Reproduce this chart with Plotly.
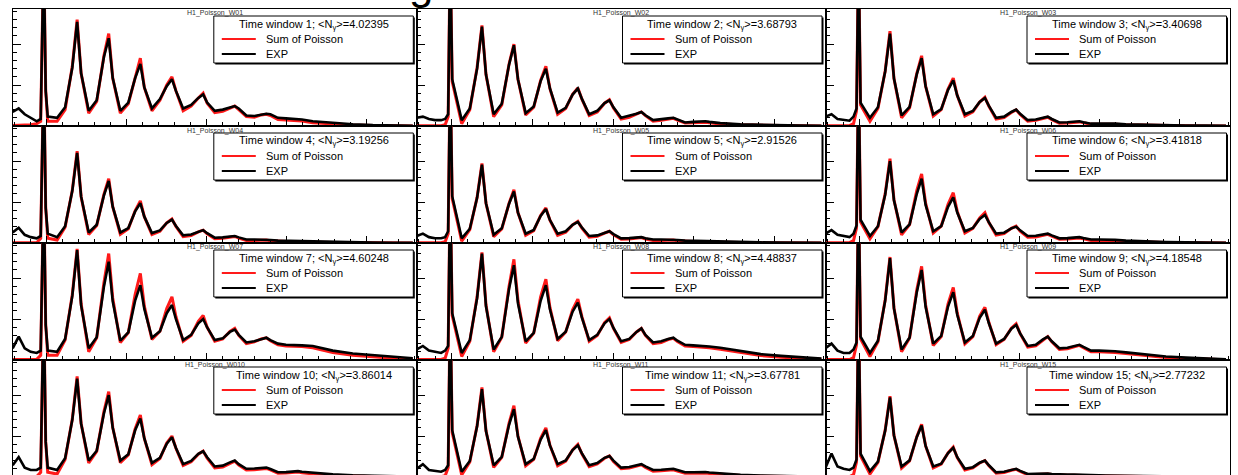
import plotly.graph_objects as go

# ---------------- data ----------------
channel = [0, 15, 30, 45, 60, 70, 77.5, 82.5, 87.5,
           111, 131, 149, 161, 171,
           190, 210, 228, 240, 250,
           269, 289, 306, 319, 329,
           348, 368, 385, 398, 408,
           426, 446, 464, 476, 486,
           505, 525, 543, 555, 565,
           584, 604, 621, 634, 644,
           663, 683, 700, 713, 723,
           750, 800, 850, 900, 950, 1000]

hist_names = ["H1_Poisson_W01", "H1_Poisson_W02", "H1_Poisson_W03",
              "H1_Poisson_W04", "H1_Poisson_W05", "H1_Poisson_W06",
              "H1_Poisson_W07", "H1_Poisson_W08", "H1_Poisson_W09",
              "H1_Poisson_W010", "H1_Poisson_W11", "H1_Poisson_W15"]
windows = [1, 2, 3, 4, 5, 6, 7, 8, 9, 10, 11, 15]
mean_ngamma = ["4.02395", "3.68793", "3.40698", "3.19256", "2.91526", "3.41818",
               "4.60248", "4.48837", "4.18548", "3.86014", "3.67781", "2.77232"]

exp_w01 = [120,150,100,70,40,60,1500,300,80, 70,160,500,890,450, 130,220,590,750,410, 130,200,410,530,330, 150,230,340,400,300, 150,180,240,270,200, 130,140,160,170,150, 90,85,100,105,100, 70,65,60,60,55, 40,25,15,8,4,2]
sop_w01 = [5,5,5,10,20,40,1500,300,40, 40,140,510,910,450, 110,210,600,790,410, 110,190,420,580,330, 130,220,350,420,300, 130,170,240,280,195, 115,125,155,170,140, 80,75,95,100,90, 55,50,48,48,42, 28,15,8,4,2,1]
exp_w02 = [70,80,60,50,50,60,100,1500,400, 50,150,490,850,440, 100,190,525,690,400, 110,167,384,490,321, 115,156,269,320,232, 100,130,196,220,160, 70,85,105,120,92, 50,55,65,70,55, 30,35,40,40,35, 25,15,10,6,4,2]
sop_w02 = [3,3,3,3,3,10,80,1500,380, 20,140,500,860,440, 80,180,530,700,400, 95,160,390,510,320, 100,150,270,325,230, 90,120,195,225,155, 60,75,100,120,88, 42,48,60,66,50, 25,28,32,32,28, 18,10,6,3,2,1]
exp_w03 = [80,100,60,50,45,80,150,1500,200, 70,160,466,790,405, 90,163,443,580,340, 100,144,309,390,260, 100,128,205,240,172, 70,80,120,140,104, 50,55,70,80,60, 30,32,38,40,32, 20,20,22,22,20, 14,9,6,4,3,2]
sop_w03 = [3,3,3,3,3,20,130,1500,180, 40,150,470,810,405, 70,155,450,600,340, 85,140,315,410,260, 85,120,205,245,168, 60,72,115,138,98, 42,48,64,75,55, 24,26,32,35,27, 15,15,17,17,15, 10,6,4,2,1,1]
exp_w04 = [90,130,70,50,40,60,1500,300,80, 50,144,446,770,396, 90,156,407,530,310, 90,128,270,340,225, 85,108,171,200,146, 65,72,98,110,84, 45,48,56,60,48, 30,30,30,30,26, 20,18,18,18,16, 12,8,5,3,2,1]
sop_w04 = [3,3,3,3,3,40,1500,300,40, 25,135,450,785,396, 72,150,415,550,310, 75,122,275,360,225, 72,100,172,205,142, 55,64,95,110,78, 37,40,50,56,42, 22,22,24,25,20, 13,12,12,12,10, 7,4,2,1,1,0]
exp_w05 = [60,80,50,40,40,50,100,1500,400, 40,122,386,670,340, 70,126,336,440,260, 80,112,231,290,196, 80,100,155,180,132, 60,65,88,100,76, 40,42,48,50,40, 30,30,30,30,25, 20,18,18,18,15, 11,7,5,3,2,1]
sop_w05 = [2,2,2,2,2,10,80,1500,380, 15,115,390,680,340, 55,120,340,455,260, 65,105,235,300,195, 65,92,155,185,128, 50,57,84,100,70, 32,34,42,46,34, 22,22,24,25,20, 13,12,12,12,10, 7,4,2,1,1,0]
exp_w06 = [80,110,70,60,50,80,150,1500,200, 60,143,412,700,364, 90,159,421,550,325, 100,144,309,390,260, 100,128,205,240,176, 80,88,125,140,108, 60,62,74,80,65, 40,42,48,50,42, 30,30,30,30,27, 20,12,8,5,3,2]
sop_w06 = [3,3,3,3,3,20,130,1500,180, 35,140,420,720,370, 70,158,450,590,340, 85,145,330,430,270, 85,125,215,260,175, 68,80,125,145,100, 50,52,66,74,58, 32,34,40,43,35, 22,22,22,22,19, 13,7,4,2,1,1]
exp_w07 = [100,200,100,70,60,80,1500,300,80, 70,180,548,940,467, 100,194,627,840,502, 165,236,507,640,437, 190,246,400,470,350, 170,215,314,350,278, 170,185,240,260,215, 150,160,180,190,170, 140,130,130,130,125, 120,80,55,40,25,15]
sop_w07 = [5,5,5,5,5,40,1500,300,40, 40,170,560,950,480, 70,190,660,910,530, 150,235,560,740,460, 175,245,440,540,370, 160,210,330,380,280, 160,180,245,270,210, 140,155,180,190,165, 130,120,120,120,115, 105,65,40,25,15,8]
exp_w08 = [90,120,80,70,60,80,120,1500,400, 60,170,528,910,459, 90,198,608,810,485, 160,232,506,640,433, 180,242,413,490,362, 170,215,314,350,274, 160,180,240,270,215, 150,160,180,190,165, 130,125,122,120,115, 105,75,50,35,22,12]
sop_w08 = [4,4,4,4,4,15,100,1500,380, 30,160,540,920,470, 70,195,630,860,510, 145,230,540,690,450, 165,240,430,520,370, 160,210,320,360,270, 150,175,240,270,210, 140,150,175,185,158, 120,115,112,110,105, 92,62,38,24,14,7]
exp_w09 = [100,140,80,60,60,90,150,1500,200, 60,165,506,870,441, 90,192,580,770,455, 140,206,457,580,387, 150,206,360,430,314, 140,180,268,300,228, 120,130,176,200,160, 100,105,122,130,112, 80,80,80,80,75, 65,45,30,20,12,6]
sop_w09 = [4,4,4,4,4,20,130,1500,180, 30,155,515,880,445, 70,188,600,800,470, 125,200,480,620,400, 138,200,375,450,320, 130,175,272,310,225, 110,122,172,200,155, 90,96,115,125,105, 70,70,70,70,65, 55,36,22,13,7,3]
exp_w10 = [100,170,80,60,60,80,1500,300,80, 60,161,489,840,455, 140,224,543,700,420, 140,194,399,500,329, 120,164,285,340,248, 110,138,198,220,168, 90,97,125,140,110, 70,72,78,80,68, 40,42,48,50,45, 35,22,14,9,5,3]
sop_w10 = [4,4,4,4,4,40,1500,300,40, 25,150,495,860,460, 120,218,560,730,425, 122,188,410,530,330, 105,158,290,350,245, 98,130,195,222,160, 78,86,118,135,102, 60,62,70,73,60, 32,34,40,42,37, 26,15,8,4,2,1]
exp_w11 = [70,110,60,50,45,60,100,1500,400, 45,137,433,750,392, 100,172,446,580,345, 110,154,319,400,270, 110,142,230,270,202, 100,120,164,180,140, 80,85,102,110,90, 60,62,68,70,60, 40,40,42,42,38, 30,18,12,7,4,2]
sop_w11 = [3,3,3,3,3,10,80,1500,380, 18,128,440,765,395, 82,168,460,610,350, 95,150,330,420,272, 96,136,232,278,198, 88,112,160,180,132, 70,76,96,104,82, 50,53,60,62,50, 32,32,34,34,30, 22,12,7,4,2,1]
exp_w15 = [80,200,90,70,60,80,150,1500,200, 50,132,396,680,355, 90,142,342,440,265, 90,114,205,250,169, 70,84,122,140,100, 40,45,62,70,52, 25,27,30,30,25, 20,20,20,20,18, 15,14,13,12,11, 10,7,5,3,2,1]
sop_w15 = [3,3,3,3,3,20,130,1500,180, 25,125,400,690,355, 75,138,345,450,265, 78,110,205,255,165, 60,78,120,140,95, 33,38,58,66,47, 20,22,25,26,21, 15,15,15,15,13, 10,9,8,7,6, 5,3,2,1,1,0]

exp_series = [exp_w01, exp_w02, exp_w03, exp_w04, exp_w05, exp_w06,
              exp_w07, exp_w08, exp_w09, exp_w10, exp_w11, exp_w15]
sop_series = [sop_w01, sop_w02, sop_w03, sop_w04, sop_w05, sop_w06,
              sop_w07, sop_w08, sop_w09, sop_w10, sop_w11, sop_w15]

# ---------------- layout geometry (pixels) ----------------
FIG_W, FIG_H = 1238, 475
col_left = [12.7, 416.8, 825.5]
col_right = [416.8, 825.5, 1230.0]
row_top = [9, 126, 243, 360]
row_bot = [126, 243, 360, 475]
row_ymin = [0, 0, 0, 17]


def px(x):
    return x / FIG_W


def py(y):
    return 1 - y / FIG_H


FONT = "Liberation Sans, Arial, Helvetica, sans-serif"

fig = go.Figure()
layout = {}
shapes = []
annotations = []

for i in range(12):
    r, c = divmod(i, 3)
    suf = "" if i == 0 else str(i + 1)
    L, R = col_left[c], col_right[c]
    T, B = row_top[r], row_bot[r]

    fig.add_trace(go.Scatter(x=channel, y=sop_series[i], xaxis="x" + suf, yaxis="y" + suf,
                             mode="lines", line=dict(color="#ff1a1a", width=3.0),
                             showlegend=False, hoverinfo="skip"))
    fig.add_trace(go.Scatter(x=channel, y=exp_series[i], xaxis="x" + suf, yaxis="y" + suf,
                             mode="lines", line=dict(color="black", width=2.6),
                             showlegend=False, hoverinfo="skip"))

    last_row = (r == 3)
    layout["xaxis" + suf] = dict(
        domain=[px(L), px(R)], anchor="y" + suf, range=[0, 1010],
        showgrid=False, zeroline=False, showline=True, mirror=True,
        linecolor="black", linewidth=1, ticks="" if last_row else "inside", ticklen=7,
        tickcolor="black", tickwidth=1, tick0=85, dtick=200, showticklabels=False,
        minor=dict(ticks="" if last_row else "inside", ticklen=4, tick0=5, dtick=40,
                   tickcolor="black", showgrid=False),
    )
    layout["yaxis" + suf] = dict(
        domain=[py(B), py(T)], anchor="x" + suf, range=[row_ymin[r], 1000],
        showgrid=False, zeroline=False, showline=True, mirror=True,
        linecolor="black", linewidth=1, ticks="inside", ticklen=8,
        tickcolor="black", tickwidth=1, tick0=0, dtick=350, showticklabels=False,
        minor=dict(ticks="inside", ticklen=4, tick0=0, dtick=70, tickcolor="black", showgrid=False),
    )

    # histogram title
    annotations.append(dict(x=px((L + R) / 2), y=py(T + 4.5), xref="paper", yref="paper",
                            text=hist_names[i], showarrow=False, xanchor="center", yanchor="middle",
                            font=dict(family=FONT, size=7, color="#333333")))

    # legend box
    x0, x1 = R - 203, R - 3.5
    y0, y1 = T + 7, T + 54
    shapes.append(dict(type="rect", xref="paper", yref="paper",
                       x0=px(x0 + 1.5), x1=px(x1 + 1.5), y0=py(y1 + 1.5), y1=py(y0 + 1.5),
                       fillcolor="black", line=dict(width=0), layer="above"))
    shapes.append(dict(type="rect", xref="paper", yref="paper",
                       x0=px(x0), x1=px(x1), y0=py(y1), y1=py(y0),
                       fillcolor="white", line=dict(color="black", width=1), layer="above"))
    shapes.append(dict(type="line", xref="paper", yref="paper",
                       x0=px(x0 + 8), x1=px(x0 + 42), y0=py(T + 30), y1=py(T + 30),
                       line=dict(color="#ff1a1a", width=2), layer="above"))
    shapes.append(dict(type="line", xref="paper", yref="paper",
                       x0=px(x0 + 8), x1=px(x0 + 42), y0=py(T + 45), y1=py(T + 45),
                       line=dict(color="black", width=2), layer="above"))
    annotations.append(dict(x=px((x0 + x1) / 2), y=py(T + 15.5), xref="paper", yref="paper",
                            text=f"Time window {windows[i]}; &lt;N<sub>γ</sub>&gt;={mean_ngamma[i]}",
                            showarrow=False, xanchor="center", yanchor="middle",
                            font=dict(family=FONT, size=11, color="black")))
    annotations.append(dict(x=px(x0 + 50), y=py(T + 30), xref="paper", yref="paper",
                            text="Sum of Poisson", showarrow=False, xanchor="left", yanchor="middle",
                            font=dict(family=FONT, size=11, color="black")))
    annotations.append(dict(x=px(x0 + 50), y=py(T + 45), xref="paper", yref="paper",
                            text="EXP", showarrow=False, xanchor="left", yanchor="middle",
                            font=dict(family=FONT, size=11, color="black")))

# cropped remnant of the canvas title at the very top
annotations.append(dict(x=px(421), y=py(10), xref="paper", yref="paper", text="g",
                        showarrow=False, xanchor="center", yanchor="bottom",
                        font=dict(family=FONT, size=44, color="black")))

fig.update_layout(
    width=FIG_W, height=FIG_H,
    margin=dict(l=0, r=0, t=0, b=0),
    paper_bgcolor="white", plot_bgcolor="white",
    showlegend=False, hovermode=False,
    shapes=shapes, annotations=annotations,
    **layout,
)

fig.write_html("out.html")
